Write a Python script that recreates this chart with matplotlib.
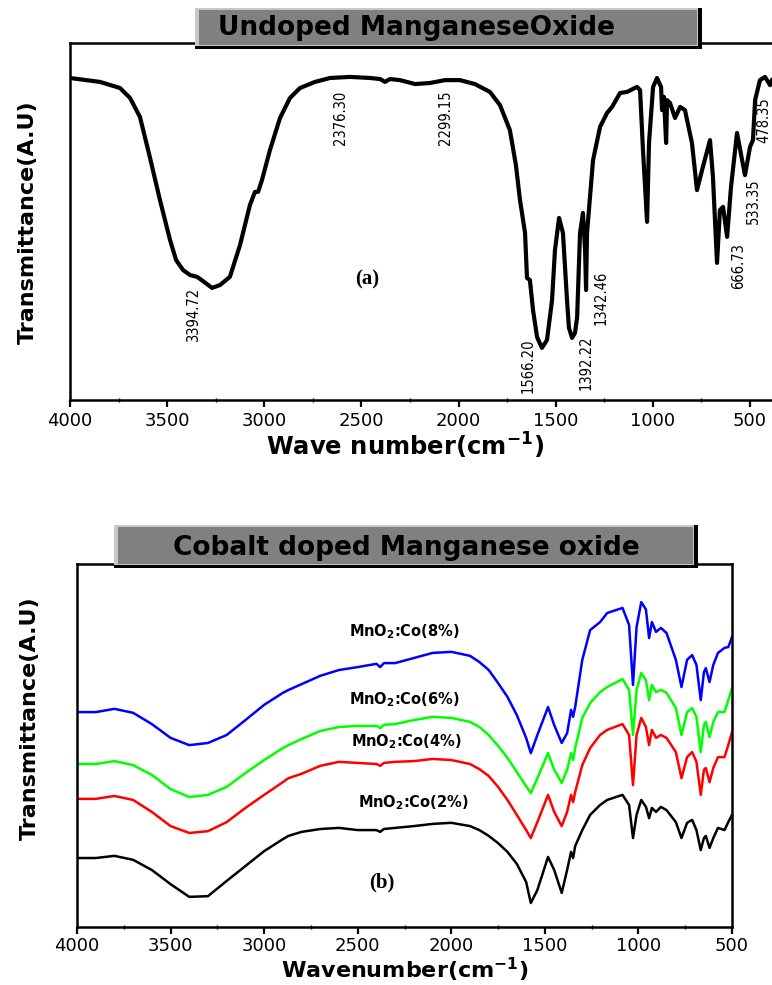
import matplotlib
matplotlib.use("Agg")
import matplotlib.pyplot as plt
from matplotlib.patches import Rectangle

plt.rcParams['font.family'] = ['DejaVu Sans']
plt.rcParams['mathtext.default'] = 'bf'

# ---------------- data: panel (a) undoped MnO2 ----------------
top_wn = [4000, 3846, 3743, 3691, 3640, 3588, 3537, 3485, 3454, 3418,
          3382, 3346, 3315, 3269, 3228, 3177, 3125, 3074, 3048, 3032,
          3012, 2971, 2919, 2868, 2816, 2739, 2662, 2559, 2456, 2404,
          2379, 2353, 2302, 2224, 2147, 2070, 1993, 1916, 1839, 1787,
          1736, 1705, 1684, 1658, 1648, 1633, 1617, 1596, 1571, 1545,
          1519, 1504, 1483, 1463, 1442, 1432, 1416, 1401, 1390, 1375,
          1360, 1349, 1344, 1339, 1308, 1272, 1236, 1210, 1169, 1133,
          1082, 1066, 1051, 1030, 1020, 999, 979, 958, 953, 943,
          932, 927, 912, 886, 860, 835, 799, 773, 747, 706,
          691, 670, 655, 639, 618, 598, 567, 541, 526, 500,
          485, 474, 449, 423, 397, 387]
top_T = [90.2, 89.1, 87.4, 84.6, 79.3, 67.8, 56.0, 44.8, 39.2, 36.4,
         35.0, 34.5, 33.3, 31.4, 32.2, 34.5, 43.4, 54.6, 58.3, 58.3,
         61.6, 70.0, 79.0, 84.6, 87.4, 89.1, 90.2, 90.5, 90.2, 89.9,
         89.1, 89.9, 89.6, 88.5, 88.8, 89.6, 89.6, 88.5, 86.3, 82.6,
         75.6, 65.8, 56.0, 46.8, 34.2, 33.6, 25.2, 17.6, 14.6, 16.8,
         28.0, 42.0, 51.0, 46.8, 28.0, 20.2, 17.4, 18.8, 23.2, 46.8,
         52.4, 42.0, 30.8, 46.8, 67.2, 76.5, 80.4, 82.1, 86.0, 86.3,
         87.7, 86.8, 70.0, 49.9, 72.0, 87.7, 90.2, 87.7, 81.2, 84.9,
         72.0, 84.0, 83.2, 79.0, 82.1, 81.2, 72.0, 58.8, 64.4, 72.8,
         62.5, 38.4, 53.2, 54.1, 45.7, 59.7, 74.8, 67.2, 63.0, 70.9,
         72.8, 84.0, 89.6, 90.5, 88.2, 89.6]

peak_labels = ["3394.72", "2376.30", "2299.15", "1566.20", "1392.22",
               "1342.46", "666.73", "533.35", "478.35"]

# ---------------- data: panel (b) Co-doped MnO2 ----------------
doped_wn = [4000, 3900, 3800, 3700, 3600, 3500, 3400, 3300, 3200, 3100,
            3000, 2900, 2870, 2800, 2700, 2600, 2500, 2400, 2380, 2360,
            2300, 2200, 2100, 2000, 1900, 1850, 1800, 1750, 1700, 1650,
            1600, 1575, 1540, 1483, 1450, 1410, 1381, 1360, 1349, 1338,
            1300, 1258, 1205, 1167, 1085, 1050, 1029, 1010, 985, 960,
            943, 928, 906, 880, 850, 800, 770, 740, 713, 690,
            667, 650, 640, 620, 600, 575, 540, 520, 500]
co8 = [59.2, 59.2, 60.1, 59.0, 55.9, 52.1, 50.1, 50.7, 52.9, 57.0,
       61.2, 64.5, 65.3, 66.9, 69.2, 70.8, 71.6, 72.5, 71.6, 72.7,
       72.7, 74.1, 75.5, 75.8, 74.7, 73.0, 70.8, 67.2, 63.4, 58.4,
       52.1, 47.9, 52.9, 60.6, 55.6, 50.7, 53.4, 59.8, 57.9, 60.6,
       73.6, 81.8, 84.0, 86.5, 87.9, 83.2, 66.7, 82.6, 89.5, 87.5,
       79.6, 84.0, 81.3, 82.4, 81.0, 73.6, 66.1, 73.6, 74.9, 72.2,
       62.5, 70.2, 71.3, 67.5, 72.2, 75.5, 76.9, 77.1, 79.9]
co6 = [44.9, 44.9, 45.7, 44.6, 41.9, 38.0, 35.8, 36.4, 38.6, 42.4,
       46.0, 49.3, 50.1, 51.8, 54.0, 55.1, 55.4, 55.4, 54.8, 55.7,
       55.9, 57.0, 57.9, 57.6, 56.5, 55.1, 52.9, 49.9, 46.6, 42.7,
       38.8, 36.9, 41.0, 47.9, 43.3, 39.7, 43.3, 47.9, 46.0, 49.3,
       57.6, 61.7, 64.7, 66.1, 68.3, 65.3, 52.9, 65.3, 70.0, 68.0,
       62.5, 66.7, 64.7, 65.3, 64.5, 60.3, 52.9, 59.2, 60.3, 57.9,
       48.2, 55.7, 56.5, 52.3, 56.5, 59.2, 59.2, 62.5, 65.8]
co4 = [35.3, 35.3, 36.1, 35.0, 31.7, 27.8, 25.9, 26.4, 28.9, 32.8,
       36.4, 39.9, 41.0, 42.2, 44.4, 45.5, 45.2, 44.9, 44.4, 45.2,
       45.5, 45.7, 46.3, 46.0, 44.9, 43.5, 41.6, 38.6, 35.0, 30.9,
       26.7, 24.5, 28.9, 36.4, 31.7, 27.8, 31.7, 36.4, 34.4, 37.2,
       44.6, 49.3, 52.9, 54.3, 55.9, 52.9, 39.1, 52.9, 57.6, 55.1,
       50.1, 54.3, 52.1, 52.9, 52.1, 48.2, 41.0, 46.8, 48.2, 45.5,
       36.4, 43.3, 43.8, 39.9, 43.8, 46.8, 46.8, 50.1, 53.7]
co2 = [19.0, 19.0, 19.6, 18.5, 15.7, 11.8, 8.3, 8.5, 12.7, 16.8,
       20.9, 24.2, 25.1, 26.2, 27.0, 27.3, 26.7, 26.7, 26.2, 27.0,
       27.3, 27.8, 28.4, 28.7, 27.8, 26.7, 25.1, 23.1, 20.7, 17.4,
       12.4, 6.6, 10.2, 19.3, 15.7, 9.4, 15.7, 20.7, 19.0, 22.3,
       26.7, 30.9, 33.6, 35.0, 36.4, 33.6, 24.5, 30.9, 35.0, 33.1,
       30.0, 32.8, 31.7, 33.1, 32.2, 28.9, 24.5, 28.7, 29.5, 26.7,
       21.2, 24.5, 25.1, 21.8, 24.5, 27.3, 26.7, 28.9, 30.9]

series_names = ["MnO$_2$:Co(8%)", "MnO$_2$:Co(6%)", "MnO$_2$:Co(4%)", "MnO$_2$:Co(2%)"]
series_colors = ["#0000ff", "#00ff00", "#ff0000", "#000000"]

xticks = [4000, 3500, 3000, 2500, 2000, 1500, 1000, 500]

# ---------------- layout helpers (pixels) ----------------
W, H = 772, 985
fig = plt.figure(figsize=(W / 100, H / 100), dpi=100)


def rect(l, t, r, b):
    return [l / W, 1 - b / H, (r - l) / W, (b - t) / H]


def fx(x):
    return x / W


def fy(y):
    return 1 - y / H


def style_axes(ax, right=True, pad=4):
    for s in ax.spines.values():
        s.set_linewidth(1.8)
    ax.spines['right'].set_visible(right)
    ax.set_yticks([])
    ax.set_xticks(xticks)
    ax.set_xticks([3750, 3250, 2750, 2250, 1750, 1250, 750], minor=True)
    ax.tick_params(axis='x', which='major', direction='out', length=5, width=1.6,
                   labelsize=13, pad=pad)
    ax.tick_params(axis='x', which='minor', direction='inout', length=3, width=1.0)


def title_box(l, t, r, b, text, tx, ty):
    fig.add_artist(Rectangle((fx(l), fy(b)), (r - l) / W, (b - t) / H,
                             transform=fig.transFigure, fc='black', ec='none', zorder=5))
    fig.add_artist(Rectangle((fx(l), fy(b - 3)), (r - 4 - l) / W, (b - 3 - t) / H,
                             transform=fig.transFigure, fc='#c8c8c8', ec='none', zorder=6))
    fig.add_artist(Rectangle((fx(l + 4), fy(b - 4)), (r - 5 - l - 4) / W, (b - 4 - t - 2) / H,
                             transform=fig.transFigure, fc='#808080', ec='none', zorder=7))
    fig.text(fx(tx), fy(ty), text, ha='center', va='center', fontsize=19,
             fontweight='bold', color='black', zorder=8)


# ---------------- panel (a) ----------------
ax1 = fig.add_axes(rect(70, 43, 772, 400))
ax1.plot(top_wn, top_T, color='black', lw=3.0, solid_joinstyle='round', clip_on=True)
ax1.set_xlim(4000, 387)
ax1.set_ylim(0, 100)
style_axes(ax1, right=False)

label_pos = [(194, 315), (340, 118), (445, 118), (528, 366), (586, 363),
             (601, 298), (739, 266), (753, 201), (764, 120)]
for txt, (px, py) in zip(peak_labels, label_pos):
    fig.text(fx(px), fy(py), txt, rotation=90, ha='center', va='center',
             fontsize=10.5, fontstretch='condensed', color='black')

fig.text(fx(367), fy(279), "(a)", ha='center', va='center', fontsize=15,
         fontweight='bold', family=['Liberation Serif', 'DejaVu Serif'])
fig.text(fx(405), fy(446), "Wave number(cm$^{-1}$)", ha='center', va='center',
         fontsize=17.5, fontweight='bold')
fig.text(fx(28), fy(222), "Transmittance(A.U)", rotation=90, ha='center', va='center',
         fontsize=16, fontweight='bold')

title_box(195, 8, 702, 49, "Undoped ManganeseOxide", 417, 28)

# ---------------- panel (b) ----------------
ax2 = fig.add_axes(rect(77, 564, 732, 927))
for vals, col in zip([co8, co6, co4, co2], series_colors):
    ax2.plot(doped_wn, vals, color=col, lw=1.8, solid_joinstyle='round')
ax2.set_xlim(4000, 500)
ax2.set_ylim(0, 100)
style_axes(ax2, right=True, pad=2)

name_pos = [(404, 632), (404, 700), (406, 742), (413, 803)]
for name, (px, py) in zip(series_names, name_pos):
    fig.text(fx(px), fy(py), name, ha='center', va='center', fontsize=10.5,
             fontweight='bold', color='black')

fig.text(fx(382), fy(882), "(b)", ha='center', va='center', fontsize=15,
         fontweight='bold', family=['Liberation Serif', 'DejaVu Serif'])
fig.text(fx(405), fy(978), "Wavenumber(cm$^{-1}$)", ha='center', va='baseline',
         fontsize=16, fontweight='bold')
fig.text(fx(30), fy(718), "Transmittance(A.U)", rotation=90, ha='center', va='center',
         fontsize=16, fontweight='bold')

title_box(114, 525, 698, 568, "Cobalt doped Manganese oxide", 406, 548)

fig.savefig("out.png", dpi=100)
